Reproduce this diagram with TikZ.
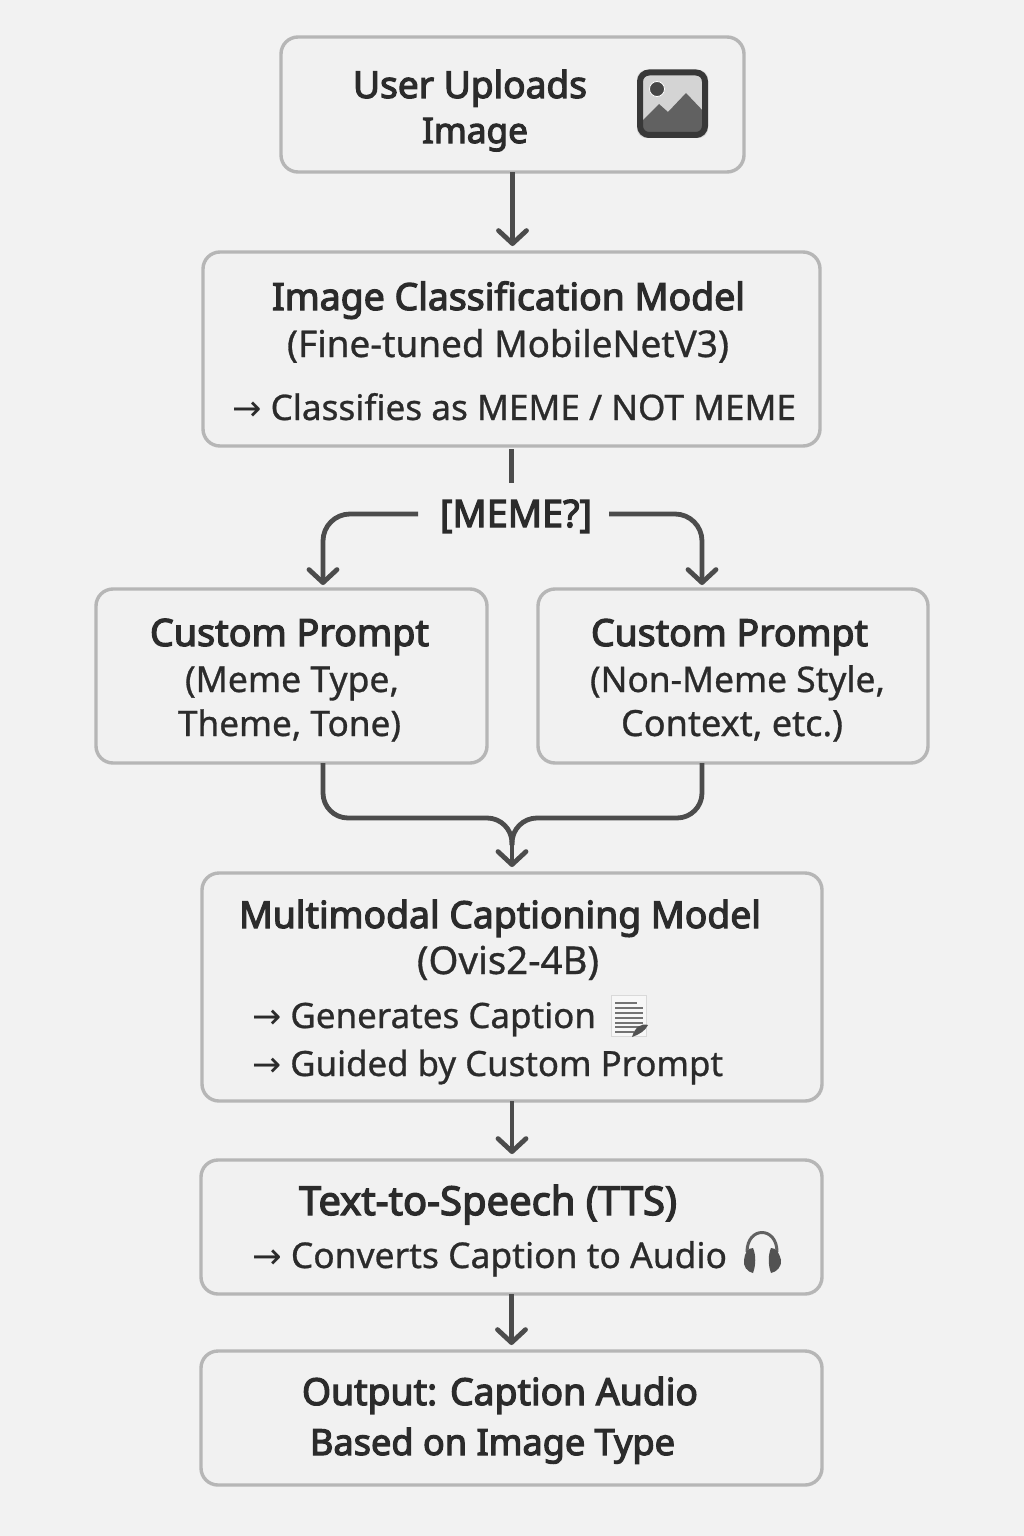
\documentclass[tikz,border=0pt]{standalone}
\usepackage{fontspec}
\usetikzlibrary{arrows.meta}
\setmainfont{Noto Sans}
\newfontfamily\semifont[FakeBold=3.2]{Noto Sans}
\newfontfamily\regfont[FakeBold=0.8]{Noto Sans}
\newfontfamily\arrowfont{DejaVu Sans}
\definecolor{bgc}{HTML}{F2F2F2}
\definecolor{boxfill}{HTML}{F1F1F1}
\definecolor{boxline}{HTML}{B6B6B6}
\definecolor{ink}{HTML}{2B2B2B}
\definecolor{conn}{HTML}{4C4C4C}
\newsavebox{\measurebox}
% name, left, right, baseline, font, text: the size is chosen so the line spans left..right
\newcommand{\tl}[6]{%
  \node[lbl] (#1) at (#2,#4) {%
    \sbox{\measurebox}{\fontsize{30pt}{30pt}#5\selectfont #6}%
    \pgfmathsetmacro{\fsz}{30*((#3-#2)/\the\wd\measurebox)}%
    \fontsize{\fsz pt}{\fsz pt}#5\selectfont #6};%
}
\newcommand{\arw}{{\arrowfont →}}
\tikzset{
  x=1pt,y=-1pt,
  lbl/.style={anchor=base west,inner sep=0pt,outer sep=0pt,text=ink},
  boxn/.style={draw=boxline,fill=boxfill,line width=3.4pt,rounded corners=17pt,inner sep=0pt,outer sep=0pt,anchor=north west},
  flow/.style={draw=conn,line width=4.8pt,rounded corners=27pt},
  tip/.style={-{Straight Barb[length=13pt,width=28pt,round,line width=4.8pt]},shorten >=6pt},
}
\newcommand{\bx}[5]{\node[boxn,minimum width=#4-#2,minimum height=#5-#3] (#1) at (#2,#3) {};}
\begin{document}
\begin{tikzpicture}
\useasboundingbox (0,0) rectangle (1024,1536);
\fill[bgc] (0,0) rectangle (1024,1536);

\bx{top}{281}{37}{744}{172}
\bx{model}{203}{252}{820}{446}
\bx{pl}{96}{589}{487}{763}
\bx{pr}{538}{589}{928}{763}
\bx{cap}{202}{873}{822}{1101}
\bx{tts}{201}{1160}{822}{1294}
\bx{out}{201}{1351}{822}{1485}

\tl{t1}{353}{587}{98}{\semifont}{User Uploads}
\tl{t2}{422}{528}{143}{\semifont}{Image}
\tl{m1}{272}{745}{310}{\semifont}{Image Classification Model}
\tl{m2}{287}{729}{357}{\regfont}{(Fine-tuned MobileNetV3)}
\tl{m3}{232}{796}{420}{\regfont}{\arw{} Classifies as MEME / NOT MEME}
\tl{meme}{440}{592}{527}{\semifont}{[MEME?]}
\tl{l1}{150}{429}{646}{\semifont}{Custom Prompt}
\tl{l2}{185}{399}{692}{\regfont}{(Meme Type,}
\tl{l3}{178}{401}{736}{\regfont}{Theme, Tone)}
\tl{r1}{591}{868}{646}{\semifont}{Custom Prompt}
\tl{r2}{590}{885}{692}{\regfont}{(Non-Meme Style,}
\tl{r3}{621}{843}{736}{\regfont}{Context, etc.)}
\tl{c1}{239}{761}{928}{\semifont}{Multimodal Captioning Model}
\tl{c2}{417}{599}{974}{\regfont}{(Ovis2-4B)}
\tl{c3}{252}{596}{1028}{\regfont}{\arw{} Generates Caption}
\tl{c4}{252}{723}{1076}{\regfont}{\arw{} Guided by Custom Prompt}
\tl{s1}{299}{677}{1215}{\semifont}{Text-to-Speech (TTS)}
\tl{s2}{252}{727}{1268}{\regfont}{\arw{} Converts Caption to Audio}
\tl{o1}{302}{698}{1405}{\semifont}{Output: Caption Audio}
\tl{o2}{310}{675}{1455}{\semifont}{Based on Image Type}

% connectors
\draw[flow,tip] (top.south) -- (top.south |- model.north);
\draw[flow] ([yshift=-3pt]model.south) -- ([yshift=-37pt]model.south);
\draw[flow,tip,shorten >=4pt] ([xshift=-22pt]meme.base west |- 323,514) -- (323,514) -- ([xshift=31.5pt]pl.north);
\draw[flow,tip,shorten >=4pt] ([xshift=17pt]meme.base east |- 702,514) -- (702,514) -- ([xshift=-31pt]pr.north);
\draw[flow,rounded corners=25pt] ([xshift=31.5pt]pl.south) -- (323,818) -- (512,818) -- (512,845);
\draw[flow,rounded corners=25pt] ([xshift=-31pt]pr.south) -- (702,818) -- (512,818) -- (512,845);
\draw[flow,tip] (512,835) -- (cap.north -| 512,873);
\draw[flow,tip] (cap.south) -- (cap.south |- tts.north);
\draw[flow,tip] (tts.south) -- (tts.south |- out.north);

% picture icon
\begin{scope}
  \fill[rounded corners=9pt,fill=black!14] (637,70) rectangle (708,138);
  \begin{scope}
    \clip[rounded corners=5pt] (640,73) rectangle (705,135);
    \fill[fill=black!17] (640,73) rectangle (705,135);
    \fill[fill=black!62] (640,124) -- (643,120) -- (659,104) -- (668,112) -- (686,93) -- (705,113) -- (705,135) -- (640,135) -- cycle;
  \end{scope}
  \fill[fill=black!72,draw=white,line width=0.8pt] (657,89) circle (7.5);
  \draw[draw=black!78,line width=6pt,rounded corners=9pt] (640,72.5) rectangle (705,135);
\end{scope}

% document icon
\fill[fill=black!3,draw=black!15,line width=1pt] (611,995) rectangle (646,1036);
\foreach \yy/\xe in {1003/637,1008/643,1013/643,1018/643,1023/643,1027/640,1032/634}
  \draw[black!55,line width=1.5pt] (615,\yy) -- (\xe,\yy);
\fill[black!68] (632,1037) .. controls (635,1027) and (641,1023) .. (648,1025) .. controls (645,1031) and (640,1034) .. (632,1037) -- cycle;

% headphones icon
\draw[black!62,line width=3pt] (747,1252) .. controls (747,1226) and (777,1226) .. (777,1252);
\fill[black!68] (753,1248) .. controls (747,1248) and (745,1253) .. (744,1260) .. controls (743,1266) and (747,1272) .. (753,1273) .. controls (756,1265) and (756,1255) .. (753,1248) -- cycle;
\fill[black!68] (771,1248) .. controls (777,1248) and (779,1253) .. (781,1260) .. controls (782,1266) and (777,1272) .. (771,1273) .. controls (768,1265) and (768,1255) .. (771,1248) -- cycle;
\end{tikzpicture}
\end{document}
